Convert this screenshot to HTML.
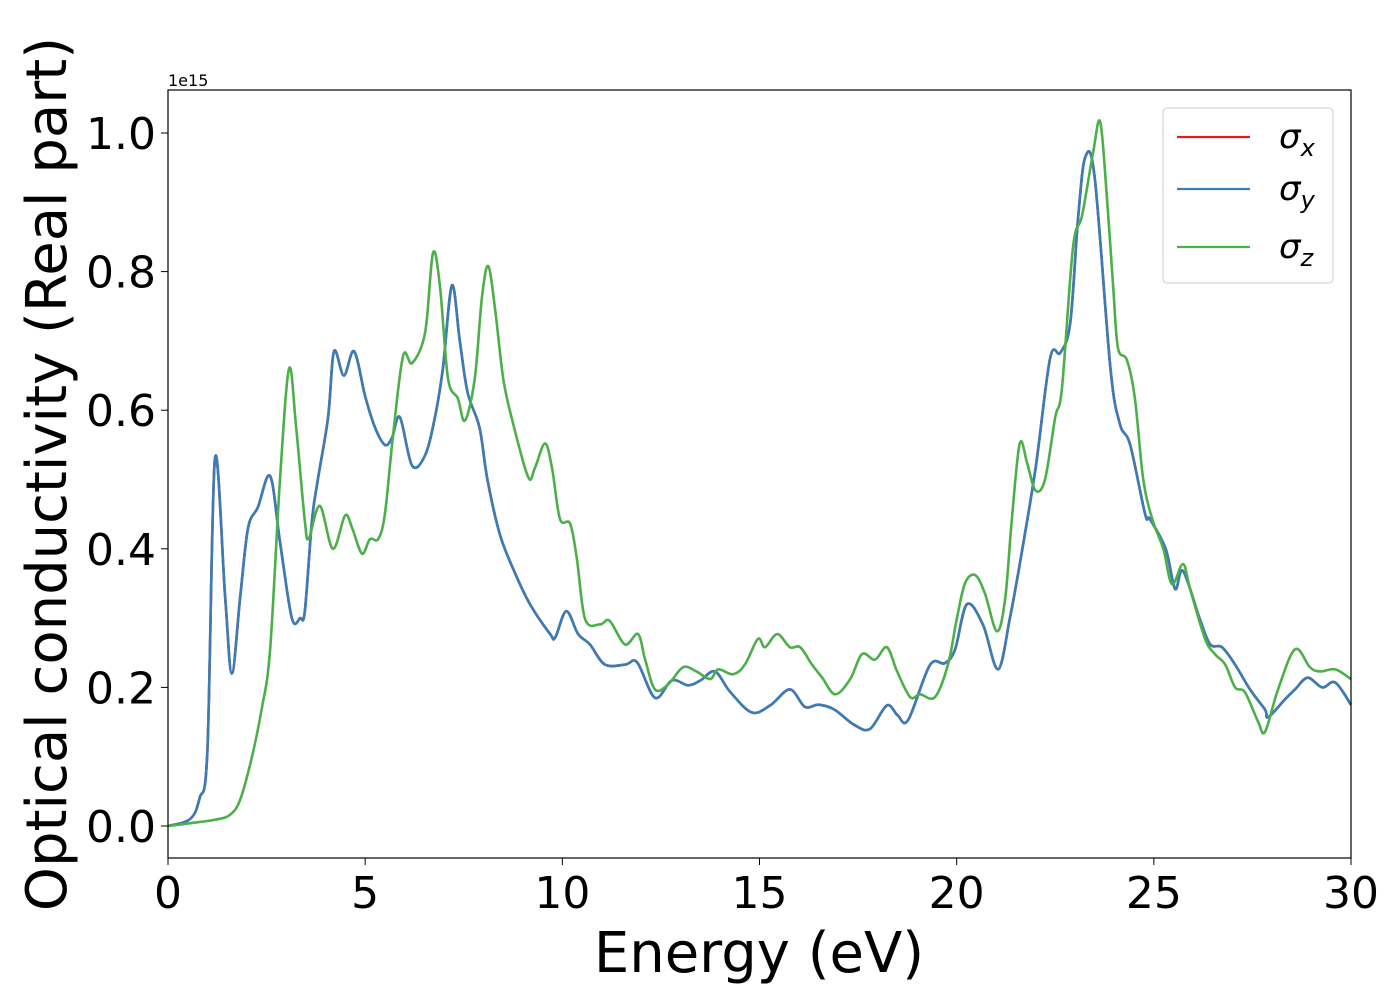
<!DOCTYPE html>
<html><head><meta charset="utf-8"><style>
body{margin:0;background:#fff;}
svg{display:block;font-family:"DejaVu Sans","Liberation Sans",sans-serif;}
</style></head><body>
<svg id="chart" width="1400" height="1000">
<rect x="168" y="90" width="1183" height="768" fill="#fff"/>
<g id="series"></g>
<rect x="168" y="90" width="1183" height="768" fill="none" stroke="#000" stroke-width="1.2"/>
<g id="xticks"></g><g id="yticks"></g>
<text x="168" y="86" font-size="16">1e15</text>
<text x="759" y="972" font-size="56" text-anchor="middle">Energy (eV)</text>
<text transform="translate(66,474) rotate(-90)" font-size="56" text-anchor="middle">Optical conductivity (Real part)</text>
<g>
<rect x="1163" y="108" width="170" height="175" rx="4" fill="#fff" stroke="#ccc" stroke-width="1"/>
<line x1="1177" y1="137" x2="1250" y2="137" stroke="#e41a1c" stroke-width="2.2"/>
<text x="1279" y="148" font-size="34" font-style="italic">σ<tspan font-size="24" dy="8">x</tspan></text>
<line x1="1177" y1="189" x2="1250" y2="189" stroke="#377eb8" stroke-width="2.2"/>
<text x="1279" y="200" font-size="34" font-style="italic">σ<tspan font-size="24" dy="8">y</tspan></text>
<line x1="1177" y1="247" x2="1250" y2="247" stroke="#4daf4a" stroke-width="2.2"/>
<text x="1279" y="258" font-size="34" font-style="italic">σ<tspan font-size="24" dy="8">z</tspan></text>
</g>
</svg>
<script>
const xTicks=[0,5,10,15,20,25,30];
const yTicks=[0.0,0.2,0.4,0.6,0.8,1.0];
const energyXY=[0,0.56,0.8,1.0,1.19,1.45,1.62,1.83,2.03,2.28,2.59,2.84,3.14,3.35,3.47,3.65,3.8,4.06,4.21,4.46,4.72,5.0,5.25,5.5,5.68,5.88,6.19,6.52,6.77,6.97,7.2,7.4,7.6,7.9,8.1,8.42,8.8,9.18,9.69,9.82,10.1,10.4,10.7,11.08,11.6,11.9,12.35,12.78,13.19,13.5,13.87,14.25,14.8,15.27,15.77,16.15,16.5,16.9,17.4,17.8,18.23,18.5,18.77,19.32,19.7,19.96,20.26,20.67,21.05,21.35,21.6,22.0,22.37,22.63,22.88,23.08,23.26,23.5,23.9,24.14,24.4,24.78,24.9,25.3,25.54,25.74,26.17,26.43,26.73,27.06,27.44,27.82,27.9,28.33,28.58,28.9,29.27,29.6,30];
const sigmaY=[0,0.01,0.04,0.11,0.53,0.33,0.22,0.33,0.43,0.46,0.505,0.41,0.30,0.30,0.31,0.44,0.50,0.59,0.685,0.65,0.685,0.62,0.575,0.55,0.56,0.59,0.52,0.535,0.59,0.66,0.78,0.70,0.625,0.575,0.50,0.42,0.365,0.32,0.277,0.272,0.31,0.277,0.262,0.233,0.233,0.236,0.185,0.21,0.203,0.21,0.223,0.194,0.164,0.174,0.197,0.172,0.175,0.168,0.146,0.14,0.174,0.16,0.153,0.232,0.235,0.255,0.32,0.29,0.226,0.30,0.378,0.516,0.675,0.683,0.726,0.878,0.965,0.936,0.66,0.58,0.55,0.45,0.443,0.40,0.342,0.368,0.298,0.262,0.258,0.233,0.197,0.168,0.157,0.183,0.197,0.214,0.2,0.207,0.175];
const sigmaX=sigmaY.slice();
const energyZ=[0,0.56,1.19,1.57,1.83,2.13,2.38,2.59,2.84,3.07,3.25,3.47,3.57,3.85,4.18,4.49,4.67,4.92,5.12,5.33,5.5,5.7,5.96,6.19,6.52,6.72,6.9,7.1,7.35,7.53,7.78,7.96,8.12,8.29,8.5,8.72,9.13,9.3,9.56,9.74,9.94,10.2,10.37,10.58,10.96,11.2,11.59,11.92,12.1,12.35,12.68,13.06,13.4,13.75,13.95,14.33,14.63,14.96,15.14,15.45,15.77,16.03,16.33,16.59,16.92,17.3,17.6,17.93,18.23,18.49,18.82,19.07,19.45,19.78,20.0,20.21,20.47,20.72,21.02,21.23,21.4,21.6,21.79,22.0,22.24,22.5,22.67,22.95,23.18,23.46,23.64,23.81,23.97,24.09,24.32,24.52,24.73,24.96,25.24,25.46,25.74,25.92,26.3,26.55,26.81,27.06,27.31,27.64,27.82,28.15,28.58,28.96,29.22,29.6,30];
const sigmaZ=[0,0.004,0.009,0.016,0.038,0.10,0.17,0.255,0.50,0.66,0.575,0.44,0.415,0.462,0.40,0.448,0.43,0.393,0.414,0.414,0.45,0.56,0.678,0.668,0.712,0.827,0.777,0.646,0.617,0.585,0.646,0.762,0.808,0.748,0.646,0.588,0.504,0.516,0.552,0.516,0.443,0.436,0.385,0.298,0.291,0.296,0.262,0.277,0.24,0.197,0.204,0.229,0.223,0.212,0.226,0.219,0.233,0.27,0.258,0.277,0.258,0.258,0.233,0.214,0.19,0.212,0.248,0.24,0.258,0.223,0.186,0.19,0.186,0.233,0.298,0.35,0.362,0.335,0.281,0.328,0.443,0.552,0.523,0.484,0.50,0.59,0.632,0.835,0.881,0.972,1.016,0.907,0.777,0.69,0.672,0.617,0.501,0.443,0.40,0.349,0.378,0.342,0.27,0.248,0.233,0.2,0.193,0.151,0.136,0.197,0.255,0.229,0.223,0.226,0.212];
const X0=168,X1=1351,Y0=826,YS=693;
const xs=e=>X0+(X1-X0)*e/30;
const ys=v=>Y0-YS*v;
const NS='http://www.w3.org/2000/svg';
function pathD(ex,vals){
  const p=ex.map((e,i)=>[xs(e),ys(vals[i])]);
  let d='M'+p[0][0]+','+p[0][1];
  for(let i=0;i<p.length-1;i++){
    const a=p[Math.max(0,i-1)],b=p[i],c=p[i+1],n=p[Math.min(p.length-1,i+2)];
    const c1=[b[0]+(c[0]-a[0])/6,b[1]+(c[1]-a[1])/6];
    const c2=[c[0]-(n[0]-b[0])/6,c[1]-(n[1]-b[1])/6];
    d+=' C'+c1+' '+c2+' '+c;
  }
  return d;
}
const g=document.getElementById('series');
function addLine(ex,vals,color,name){
  const el=document.createElementNS(NS,'path');
  el.setAttribute('d',pathD(ex,vals));
  el.setAttribute('fill','none');el.setAttribute('stroke',color);el.setAttribute('stroke-width','2.6');
  
  
  g.appendChild(el);
}
addLine(energyXY,sigmaX,'#e41a1c','series-sigma-x');
addLine(energyXY,sigmaY,'#377eb8','series-sigma-y');
addLine(energyZ,sigmaZ,'#4daf4a','series-sigma-z');
const xt=document.getElementById('xticks');
xTicks.forEach(t=>{
  const l=document.createElementNS(NS,'line');
  l.setAttribute('x1',xs(t));l.setAttribute('x2',xs(t));l.setAttribute('y1',858);l.setAttribute('y2',865);l.setAttribute('stroke','#000');
  
  
  xt.appendChild(l);
  const tx=document.createElementNS(NS,'text');
  tx.setAttribute('x',xs(t));tx.setAttribute('y',908);tx.setAttribute('font-size','44');tx.setAttribute('text-anchor','middle');
  tx.textContent=t;
  
  
  xt.appendChild(tx);
});
const yt=document.getElementById('yticks');
yTicks.forEach(t=>{
  const l=document.createElementNS(NS,'line');
  l.setAttribute('x1',161);l.setAttribute('x2',168);l.setAttribute('y1',ys(t));l.setAttribute('y2',ys(t));l.setAttribute('stroke','#000');
  
  
  yt.appendChild(l);
  const tx=document.createElementNS(NS,'text');
  tx.setAttribute('x',156);tx.setAttribute('y',ys(t)+16);tx.setAttribute('font-size','44');tx.setAttribute('text-anchor','end');
  tx.textContent=t.toFixed(1);
  
  
  yt.appendChild(tx);
});
</script>
</body></html>
